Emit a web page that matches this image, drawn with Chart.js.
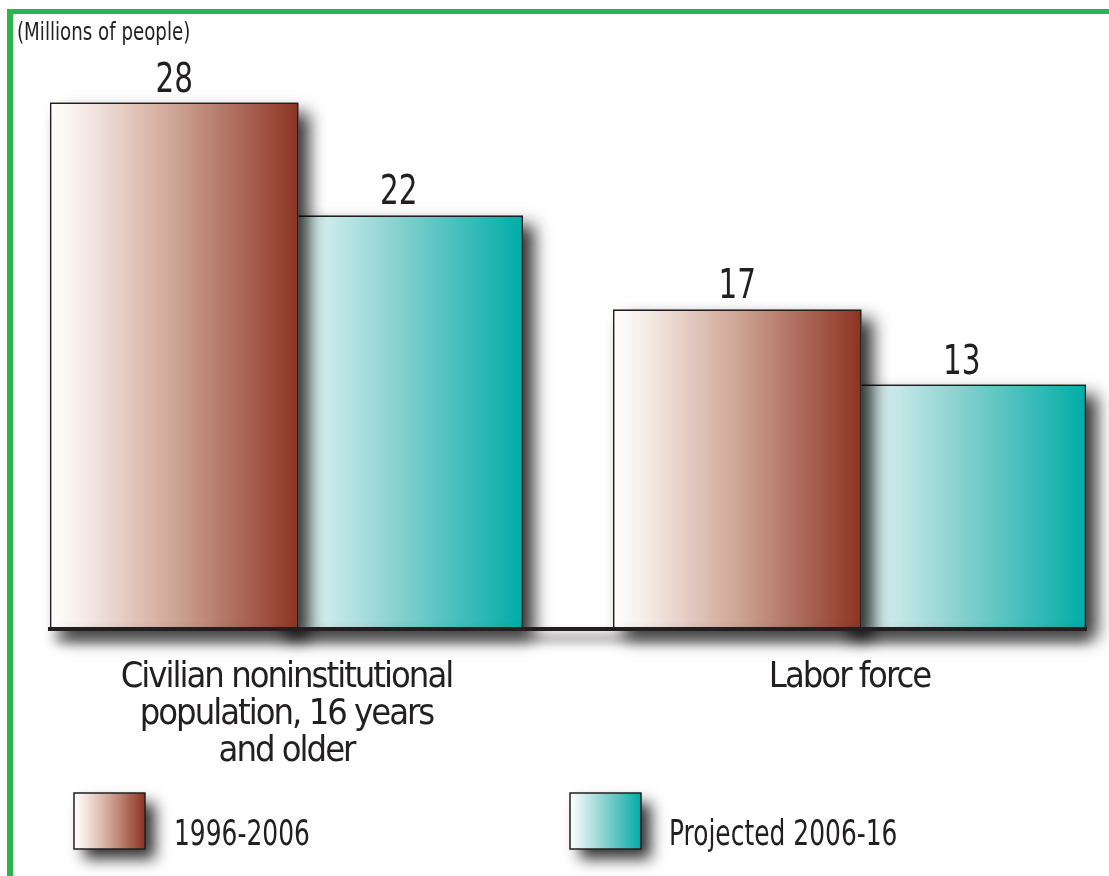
<!DOCTYPE html>
<html>
<head>
<meta charset="utf-8">
<script src="https://cdn.jsdelivr.net/npm/chart.js@4.4.1/dist/chart.umd.min.js"></script>
<style>
  html, body { margin: 0; padding: 0; background: #fff; }
  #wrap { position: relative; width: 1109px; height: 876px; overflow: hidden; background: #fff; }
  #laborChart { position: absolute; left: 0; top: 0; }
  .frame { position: absolute; background: #2bb34d; }
  #frameTop { left: 7px; top: 9px; right: 0; height: 5px; }
  #frameLeft { left: 7px; top: 9px; bottom: 0; width: 6px; }
</style>
</head>
<body>
<div id="wrap">
  <canvas id="laborChart" width="1109" height="876"></canvas>
  <div class="frame" id="frameTop"></div>
  <div class="frame" id="frameLeft"></div>
</div>
<script>
const categories = [["Civilian noninstitutional", "population, 16 years", "and older"], "Labor force"];
const seriesNames = ["1996-2006", "Projected 2006-16"];
const growthPast = [28, 17];
const growthProjected = [22, 13];
const unitNote = "(Millions of people)";

const FONT = "'Liberation Sans Narrow', 'DejaVu Sans Condensed', 'Arial Narrow', sans-serif";
const INK = "#231f20";

// left-to-right colour stops for each series
const palettes = [
    [[0, "#ffffff"], [0.12, "#f7eeea"], [0.5, "#cfa595"], [1, "#8c3322"]],
    [[0, "#ffffff"], [0.15, "#daf0f0"], [0.5, "#86d0ce"], [1, "#00aca7"]]
];

const gradientFor = (ctx, left, width, stops)=> {
    const g = ctx.createLinearGradient(left, 0, left + width, 0);
    stops.forEach(([p, c])=> g.addColorStop(p, c));
    return g;
};

const withShadow = (ctx, blur, dx, dy, draw)=> {
    ctx.save();
    ctx.shadowColor = "rgba(0, 0, 0, 0.8)";
    ctx.shadowBlur = blur;
    ctx.shadowOffsetX = dx;
    ctx.shadowOffsetY = dy;
    draw();
    ctx.restore();
};

// the original uses a condensed face, so squeeze the text sideways
const narrowText = (ctx, text, x, y, size, squeeze, align)=> {
    ctx.save();
    ctx.letterSpacing = "0px";
    ctx.font = size + "px " + FONT;
    ctx.textAlign = align;
    ctx.textBaseline = "alphabetic";
    ctx.fillStyle = INK;
    ctx.translate(x, y);
    ctx.scale(squeeze, 1);
    ctx.fillText(text, 0, 0);
    ctx.restore();
};

const tightTicks = (chart)=> {
    chart.ctx.letterSpacing = "-2px";
};

const dressing = {
    id: "dressing",
    beforeUpdate: tightTicks,
    beforeDraw: tightTicks,
    beforeDatasetDraw(chart, args) {
        const ctx = chart.ctx;
        for(let bar of args.meta.data) {
            const {x, y, base, width} = bar.getProps(["x", "y", "base", "width"], true);
            const left = x - width / 2;

            bar.options.backgroundColor = gradientFor(ctx, left, width, palettes[args.index]);
            withShadow(ctx, 16, 11, 10, ()=> {
                ctx.fillStyle = "#666";
                ctx.fillRect(left, y, width, base - y);
            });
        }
    },
    afterDatasetsDraw(chart) {
        const ctx = chart.ctx;
        const area = chart.chartArea;

        // soft shadow under the baseline
        withShadow(ctx, 12, 2, 9, ()=> {
            ctx.fillStyle = INK;
            ctx.fillRect(area.left + 3, area.bottom - 2, area.right - area.left - 3, 4);
        });

        chart.data.datasets.forEach((ds, i)=> {
            chart.getDatasetMeta(i).data.forEach((bar, j)=> {
                narrowText(ctx, String(ds.data[j].y), bar.x, bar.y - 11, 41, 0.8, "center");
            });
        });
    },
    afterDraw(chart) {
        const ctx = chart.ctx;

        narrowText(ctx, unitNote, 17, 40, 25, 0.81, "left");

        const slots = [{box: 74, text: 174}, {box: 570, text: 669}];
        chart.data.datasets.forEach((ds, i)=> {
            const s = slots[i];
            withShadow(ctx, 14, 10, 10, ()=> {
                ctx.fillStyle = "#666";
                ctx.fillRect(s.box, 793, 71, 56);
            });
            ctx.save();
            ctx.fillStyle = gradientFor(ctx, s.box, 71, palettes[i]);
            ctx.fillRect(s.box, 793, 71, 56);
            ctx.strokeStyle = INK;
            ctx.lineWidth = 1.5;
            ctx.strokeRect(s.box, 793, 71, 56);
            ctx.restore();

            narrowText(ctx, ds.label, s.text, 845, 36, 0.77, "left");
        });
    }
};

const toPoints = (values)=> values.map((v, i)=> ({x: i, y: v}));

new Chart(document.getElementById("laborChart"), {
    type: "bar",
    data: {
        datasets: [
            {
                label: seriesNames[0],
                data: toPoints(growthPast),
                backgroundColor: ()=> "#c08a78",
                borderColor: INK,
                borderWidth: 1.5,
                borderSkipped: "bottom"
            },
            {
                label: seriesNames[1],
                data: toPoints(growthProjected),
                backgroundColor: ()=> "#66c6c3",
                borderColor: INK,
                borderWidth: 1.5,
                borderSkipped: "bottom"
            }
        ]
    },
    options: {
        responsive: false,
        animation: false,
        categoryPercentage: 0.7975,
        barPercentage: 1.107,
        layout: {padding: {top: 65, left: 50, right: 23, bottom: 0}},
        plugins: {legend: {display: false}, tooltip: {enabled: false}},
        scales: {
            x: {
                type: "linear",
                offset: false,
                min: -0.42,
                max: 1.42,
                grid: {display: false, drawTicks: false},
                border: {display: true, color: INK, width: 4, z: 1},
                afterBuildTicks: (scale)=> {
                    scale.ticks = categories.map((_, i)=> ({value: i}));
                },
                afterFit: (scale)=> {
                    scale.height = 247;
                },
                ticks: {
                    autoSkip: false,
                    maxRotation: 0,
                    padding: 30,
                    color: INK,
                    font: {family: FONT, size: 36, lineHeight: 1.03},
                    callback: (value, index)=> categories[index]
                }
            },
            y: {
                display: false,
                min: 0,
                max: 30
            }
        }
    },
    plugins: [dressing]
});
</script>
</body>
</html>
